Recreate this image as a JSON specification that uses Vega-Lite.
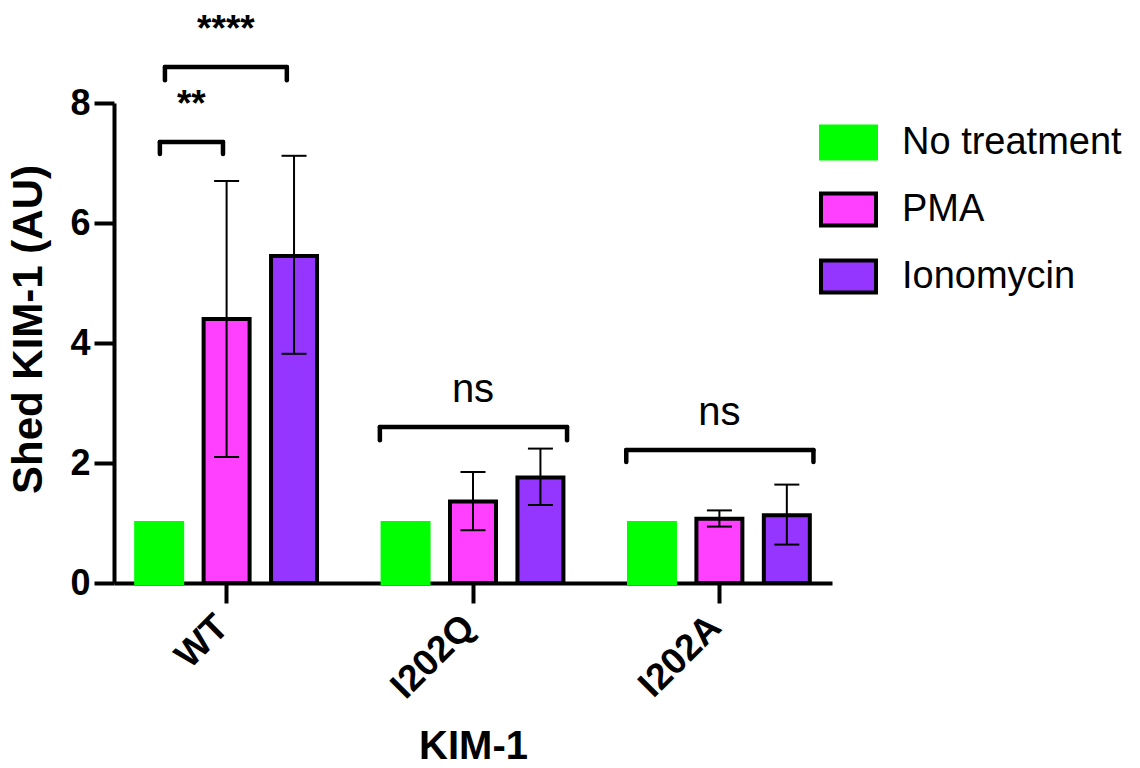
{
  "$schema": "https://vega.github.io/schema/vega-lite/v6.json",
  "width": 718,
  "height": 480,
  "autosize": "none",
  "padding": {"left": 114, "top": 103, "right": 308, "bottom": 185},
  "background": "white",
  "config": {
    "view": {"stroke": null},
    "font": "Liberation Sans",
    "axis": {
      "grid": false,
      "domainColor": "black",
      "domainWidth": 4,
      "tickColor": "black",
      "tickWidth": 4,
      "tickSize": 20,
      "labelFont": "Liberation Sans",
      "labelFontWeight": "bold",
      "labelFontSize": 36,
      "labelColor": "black",
      "titleFont": "Liberation Sans",
      "titleFontWeight": "bold",
      "titleFontSize": 40,
      "titleColor": "black"
    }
  },
  "datasets": {
    "bars": [
      {"group": "WT", "treatment": "No treatment", "mean": 1, "lo": null, "hi": null},
      {"group": "WT", "treatment": "PMA", "mean": 4.4, "lo": 2.1, "hi": 6.7},
      {"group": "WT", "treatment": "Ionomycin", "mean": 5.45, "lo": 3.82, "hi": 7.12},
      {"group": "I202Q", "treatment": "No treatment", "mean": 1, "lo": null, "hi": null},
      {"group": "I202Q", "treatment": "PMA", "mean": 1.36, "lo": 0.88, "hi": 1.85},
      {"group": "I202Q", "treatment": "Ionomycin", "mean": 1.76, "lo": 1.3, "hi": 2.24},
      {"group": "I202A", "treatment": "No treatment", "mean": 1, "lo": null, "hi": null},
      {"group": "I202A", "treatment": "PMA", "mean": 1.07, "lo": 0.94, "hi": 1.21},
      {"group": "I202A", "treatment": "Ionomycin", "mean": 1.13, "lo": 0.64, "hi": 1.64}
    ],
    "brackets": [
      {"id": "b1", "group": "WT", "label": "**", "top": 7.35, "bottom": 7.15},
      {"id": "b2", "group": "WT", "label": "****", "top": 8.6, "bottom": 8.38},
      {"id": "ns", "group": "I202Q", "label": "ns", "top": 2.6, "bottom": 2.38},
      {"id": "ns", "group": "I202A", "label": "ns", "top": 2.217, "bottom": 2.017}
    ]
  },
  "layer": [
    {
      "data": {"name": "bars"},
      "mark": {"type": "bar", "strokeWidth": 4, "strokeJoin": "miter"},
      "encoding": {
        "x": {
          "field": "group", "type": "nominal", "sort": ["WT", "I202Q", "I202A"], "title": "KIM-1",
          "scale": {"paddingInner": 0.266, "paddingOuter": 0.09},
          "axis": {"labelAngle": -45, "labelAlign": "right", "labelBaseline": "middle", "labelPadding": 18, "labelOffset": -4, "labelFontSize": 37, "titleX": 359, "titleY": 175, "titleBaseline": "alphabetic"}
        },
        "xOffset": {"field": "treatment", "type": "nominal", "sort": ["No treatment", "PMA", "Ionomycin"], "scale": {"paddingInner": 0.318, "paddingOuter": 0}},
        "y": {
          "field": "mean", "type": "quantitative", "title": "Shed KIM-1 (AU)",
          "scale": {"domain": [0, 8], "nice": false},
          "axis": {"values": [0, 2, 4, 6, 8], "format": "d", "labelPadding": 4, "titleFontSize": 42, "titleX": -86, "titleY": 226, "titleBaseline": "middle"}
        },
        "fill": {
          "field": "treatment", "type": "nominal",
          "scale": {"domain": ["No treatment", "PMA", "Ionomycin"], "range": ["#00FF00", "#FF40FF", "#9436FF"]},
          "legend": {"title": null, "orient": "none", "direction": "vertical", "legendX": 705, "legendY": 10, "symbolType": "M-1,-0.58H1V0.58H-1Z", "symbolSize": 3025, "symbolStrokeWidth": 4, "labelFont": "Liberation Sans", "labelFontSize": 38, "labelColor": "black", "labelLimit": 0, "rowPadding": 13, "labelOffset": 24, "padding": 0}
        },
        "stroke": {
          "field": "treatment", "type": "nominal",
          "scale": {"domain": ["No treatment", "PMA", "Ionomycin"], "range": ["#00FF00", "#000000", "#000000"]},
          "legend": {"title": null, "orient": "none", "direction": "vertical", "legendX": 705, "legendY": 10, "symbolType": "M-1,-0.58H1V0.58H-1Z", "symbolSize": 3025, "symbolStrokeWidth": 4, "labelFont": "Liberation Sans", "labelFontSize": 38, "labelColor": "black", "labelLimit": 0, "rowPadding": 13, "labelOffset": 24, "padding": 0}
        }
      }
    },
    {
      "data": {"name": "bars"},
      "mark": {"type": "rule", "color": "black", "strokeWidth": 2},
      "encoding": {
        "x": {"field": "group", "type": "nominal", "sort": ["WT", "I202Q", "I202A"], "title": "KIM-1"},
        "xOffset": {"field": "treatment", "type": "nominal", "sort": ["No treatment", "PMA", "Ionomycin"]},
        "y": {"field": "lo", "type": "quantitative", "title": "Shed KIM-1 (AU)", "scale": {"domain": [0, 8], "nice": false}},
        "y2": {"field": "hi"}
      }
    },
    {
      "data": {"name": "bars"},
      "mark": {"type": "tick", "orient": "horizontal", "color": "black", "size": 25, "thickness": 2, "opacity": 1},
      "encoding": {
        "x": {"field": "group", "type": "nominal", "sort": ["WT", "I202Q", "I202A"], "title": "KIM-1"},
        "xOffset": {"field": "treatment", "type": "nominal", "sort": ["No treatment", "PMA", "Ionomycin"]},
        "y": {"field": "lo", "type": "quantitative", "title": "Shed KIM-1 (AU)", "scale": {"domain": [0, 8], "nice": false}}
      }
    },
    {
      "data": {"name": "bars"},
      "mark": {"type": "tick", "orient": "horizontal", "color": "black", "size": 25, "thickness": 2, "opacity": 1},
      "encoding": {
        "x": {"field": "group", "type": "nominal", "sort": ["WT", "I202Q", "I202A"], "title": "KIM-1"},
        "xOffset": {"field": "treatment", "type": "nominal", "sort": ["No treatment", "PMA", "Ionomycin"]},
        "y": {"field": "hi", "type": "quantitative", "title": "Shed KIM-1 (AU)", "scale": {"domain": [0, 8], "nice": false}}
      }
    },
    {
      "data": {"name": "brackets"},
      "transform": [{"filter": "datum.id == 'b1'"}],
      "mark": {"type": "rule", "color": "black", "strokeWidth": 4.5, "strokeCap": "round"},
      "encoding": {
        "x": {"field": "group", "type": "nominal", "sort": ["WT", "I202Q", "I202A"], "title": "KIM-1", "bandPosition": 0.131},
        "x2": {"field": "group", "bandPosition": 0.48},
        "y": {"field": "top", "type": "quantitative", "title": "Shed KIM-1 (AU)", "scale": {"domain": [0, 8], "nice": false}}
      }
    },
    {
      "data": {"name": "brackets"},
      "transform": [{"filter": "datum.id == 'b1'"}],
      "mark": {"type": "rule", "color": "black", "strokeWidth": 4.5, "strokeCap": "round"},
      "encoding": {
        "x": {"field": "group", "type": "nominal", "sort": ["WT", "I202Q", "I202A"], "title": "KIM-1", "bandPosition": 0.131},
        "y": {"field": "top", "type": "quantitative", "title": "Shed KIM-1 (AU)", "scale": {"domain": [0, 8], "nice": false}},
        "y2": {"field": "bottom"}
      }
    },
    {
      "data": {"name": "brackets"},
      "transform": [{"filter": "datum.id == 'b1'"}],
      "mark": {"type": "rule", "color": "black", "strokeWidth": 4.5, "strokeCap": "round"},
      "encoding": {
        "x": {"field": "group", "type": "nominal", "sort": ["WT", "I202Q", "I202A"], "title": "KIM-1", "bandPosition": 0.48},
        "y": {"field": "top", "type": "quantitative", "title": "Shed KIM-1 (AU)", "scale": {"domain": [0, 8], "nice": false}},
        "y2": {"field": "bottom"}
      }
    },
    {
      "data": {"name": "brackets"},
      "transform": [{"filter": "datum.id == 'b1'"}],
      "mark": {"type": "text", "color": "black", "font": "Liberation Sans", "fontWeight": "bold", "fontSize": 37, "baseline": "alphabetic", "align": "center", "dy": -26},
      "encoding": {
        "x": {"field": "group", "type": "nominal", "sort": ["WT", "I202Q", "I202A"], "title": "KIM-1", "bandPosition": 0.305},
        "y": {"field": "top", "type": "quantitative", "title": "Shed KIM-1 (AU)", "scale": {"domain": [0, 8], "nice": false}},
        "text": {"field": "label"}
      }
    },
    {
      "data": {"name": "brackets"},
      "transform": [{"filter": "datum.id == 'b2'"}],
      "mark": {"type": "rule", "color": "black", "strokeWidth": 4.5, "strokeCap": "round"},
      "encoding": {
        "x": {"field": "group", "type": "nominal", "sort": ["WT", "I202Q", "I202A"], "title": "KIM-1", "bandPosition": 0.159},
        "x2": {"field": "group", "bandPosition": 0.833},
        "y": {"field": "top", "type": "quantitative", "title": "Shed KIM-1 (AU)", "scale": {"domain": [0, 8], "nice": false}}
      }
    },
    {
      "data": {"name": "brackets"},
      "transform": [{"filter": "datum.id == 'b2'"}],
      "mark": {"type": "rule", "color": "black", "strokeWidth": 4.5, "strokeCap": "round"},
      "encoding": {
        "x": {"field": "group", "type": "nominal", "sort": ["WT", "I202Q", "I202A"], "title": "KIM-1", "bandPosition": 0.159},
        "y": {"field": "top", "type": "quantitative", "title": "Shed KIM-1 (AU)", "scale": {"domain": [0, 8], "nice": false}},
        "y2": {"field": "bottom"}
      }
    },
    {
      "data": {"name": "brackets"},
      "transform": [{"filter": "datum.id == 'b2'"}],
      "mark": {"type": "rule", "color": "black", "strokeWidth": 4.5, "strokeCap": "round"},
      "encoding": {
        "x": {"field": "group", "type": "nominal", "sort": ["WT", "I202Q", "I202A"], "title": "KIM-1", "bandPosition": 0.833},
        "y": {"field": "top", "type": "quantitative", "title": "Shed KIM-1 (AU)", "scale": {"domain": [0, 8], "nice": false}},
        "y2": {"field": "bottom"}
      }
    },
    {
      "data": {"name": "brackets"},
      "transform": [{"filter": "datum.id == 'b2'"}],
      "mark": {"type": "text", "color": "black", "font": "Liberation Sans", "fontWeight": "bold", "fontSize": 37, "baseline": "alphabetic", "align": "center", "dy": -26},
      "encoding": {
        "x": {"field": "group", "type": "nominal", "sort": ["WT", "I202Q", "I202A"], "title": "KIM-1", "bandPosition": 0.496},
        "y": {"field": "top", "type": "quantitative", "title": "Shed KIM-1 (AU)", "scale": {"domain": [0, 8], "nice": false}},
        "text": {"field": "label"}
      }
    },
    {
      "data": {"name": "brackets"},
      "transform": [{"filter": "datum.id == 'ns'"}],
      "mark": {"type": "rule", "color": "black", "strokeWidth": 4.5, "strokeCap": "round"},
      "encoding": {
        "x": {"field": "group", "type": "nominal", "sort": ["WT", "I202Q", "I202A"], "title": "KIM-1", "bandPosition": -0.015},
        "x2": {"field": "group", "bandPosition": 1.02},
        "y": {"field": "top", "type": "quantitative", "title": "Shed KIM-1 (AU)", "scale": {"domain": [0, 8], "nice": false}}
      }
    },
    {
      "data": {"name": "brackets"},
      "transform": [{"filter": "datum.id == 'ns'"}],
      "mark": {"type": "rule", "color": "black", "strokeWidth": 4.5, "strokeCap": "round"},
      "encoding": {
        "x": {"field": "group", "type": "nominal", "sort": ["WT", "I202Q", "I202A"], "title": "KIM-1", "bandPosition": -0.015},
        "y": {"field": "top", "type": "quantitative", "title": "Shed KIM-1 (AU)", "scale": {"domain": [0, 8], "nice": false}},
        "y2": {"field": "bottom"}
      }
    },
    {
      "data": {"name": "brackets"},
      "transform": [{"filter": "datum.id == 'ns'"}],
      "mark": {"type": "rule", "color": "black", "strokeWidth": 4.5, "strokeCap": "round"},
      "encoding": {
        "x": {"field": "group", "type": "nominal", "sort": ["WT", "I202Q", "I202A"], "title": "KIM-1", "bandPosition": 1.02},
        "y": {"field": "top", "type": "quantitative", "title": "Shed KIM-1 (AU)", "scale": {"domain": [0, 8], "nice": false}},
        "y2": {"field": "bottom"}
      }
    },
    {
      "data": {"name": "brackets"},
      "transform": [{"filter": "datum.id == 'ns'"}],
      "mark": {"type": "text", "color": "black", "font": "Liberation Sans", "fontWeight": "normal", "fontSize": 40, "baseline": "alphabetic", "align": "center", "dy": -25},
      "encoding": {
        "x": {"field": "group", "type": "nominal", "sort": ["WT", "I202Q", "I202A"], "title": "KIM-1", "bandPosition": 0.5},
        "y": {"field": "top", "type": "quantitative", "title": "Shed KIM-1 (AU)", "scale": {"domain": [0, 8], "nice": false}},
        "text": {"field": "label"}
      }
    }
  ]
}
